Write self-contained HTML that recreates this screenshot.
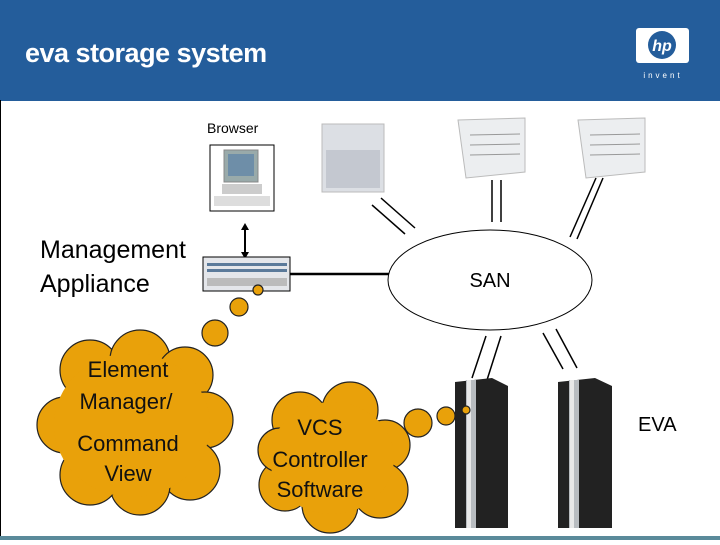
<!DOCTYPE html>
<html><head><style>
body{margin:0;width:720px;height:540px;overflow:hidden;background:#fff;font-family:"Liberation Sans",sans-serif}
</style></head><body>
<svg width="720" height="540" xmlns="http://www.w3.org/2000/svg" font-family="Liberation Sans, sans-serif">
<rect x="0" y="0" width="720" height="101" fill="#245d9b"/>
<text x="25" y="62" fill="#fff" font-size="27" font-weight="bold" letter-spacing="-0.5">eva storage system</text>
<rect x="636" y="28" width="53" height="35" rx="3" fill="#fff"/>
<circle cx="662" cy="45" r="14" fill="#245d9b"/>
<text x="662" y="51" fill="#fff" font-size="16" font-weight="bold" font-style="italic" text-anchor="middle">hp</text>
<text x="663" y="78" fill="#fff" font-size="8" text-anchor="middle" letter-spacing="3">invent</text>
<line x1="0.5" y1="100" x2="0.5" y2="540" stroke="#000"/>
<rect x="0" y="536" width="720" height="4" fill="#5a8a9a"/>

<text x="207" y="133" font-size="14">Browser</text>
<rect x="210" y="145" width="64" height="66" fill="#fff" stroke="#000"/>
<rect x="224" y="150" width="34" height="32" fill="#9aa" stroke="#888"/>
<rect x="228" y="154" width="26" height="22" fill="#6e8ea8"/>
<rect x="222" y="184" width="40" height="10" fill="#ccc"/>
<rect x="214" y="196" width="56" height="10" fill="#ddd"/>
<line x1="245" y1="226" x2="245" y2="256" stroke="#000" stroke-width="2"/>
<path d="M241,230 L245,223 L249,230 Z M241,252 L245,259 L249,252 Z" fill="#000"/>
<text x="40" y="258" font-size="25">Management</text>
<text x="40" y="292" font-size="25">Appliance</text>
<rect x="203" y="257" width="87" height="34" fill="#e4e6ea" stroke="#000"/>
<rect x="207" y="263" width="80" height="3" fill="#5b7a9a"/>
<rect x="207" y="269" width="80" height="3" fill="#5b7a9a"/>
<rect x="207" y="278" width="80" height="8" fill="#bbb"/>
<line x1="290" y1="274" x2="389" y2="274" stroke="#000" stroke-width="2.5"/>

<ellipse cx="490" cy="280" rx="102" ry="50" fill="#fff" stroke="#000"/>
<text x="490" y="287" font-size="20" text-anchor="middle">SAN</text>

<rect x="322" y="124" width="62" height="68" fill="#dcdfe4" stroke="#bbb"/>
<rect x="326" y="150" width="54" height="38" fill="#c4c8d0"/>
<path d="M458,120 L525,118 L525,172 L466,178 Z" fill="#eceef0" stroke="#bbb"/>
<path d="M578,120 L645,118 L645,172 L586,178 Z" fill="#eceef0" stroke="#bbb"/>
<g stroke="#999"><line x1="470" y1="135" x2="520" y2="134"/><line x1="470" y1="145" x2="520" y2="144"/><line x1="470" y1="155" x2="520" y2="154"/><line x1="590" y1="135" x2="640" y2="134"/><line x1="590" y1="145" x2="640" y2="144"/><line x1="590" y1="155" x2="640" y2="154"/></g>

<g stroke="#000" stroke-width="1.5">
<line x1="372" y1="205" x2="405" y2="234"/><line x1="381" y1="198" x2="415" y2="228"/>
<line x1="492" y1="180" x2="492" y2="222"/><line x1="501" y1="180" x2="501" y2="222"/>
<line x1="596" y1="178" x2="570" y2="237"/><line x1="603" y1="178" x2="577" y2="239"/>
<line x1="486" y1="336" x2="472" y2="378"/><line x1="501" y1="336" x2="487" y2="380"/>
<line x1="543" y1="333" x2="563" y2="369"/><line x1="556" y1="329" x2="577" y2="368"/>
</g>

<g>
<path d="M455,382 L492,378 L508,386 L508,528 L455,528 Z" fill="#222"/>
<rect x="466" y="380" width="10" height="148" fill="#b8bcc0"/>
<rect x="467" y="380" width="4" height="148" fill="#e8e8e8"/>
<path d="M558,382 L595,378 L612,386 L612,528 L558,528 Z" fill="#222"/>
<rect x="569" y="380" width="10" height="148" fill="#b8bcc0"/>
<rect x="570" y="380" width="4" height="148" fill="#e8e8e8"/>
</g>
<text x="638" y="431" font-size="20">EVA</text>

<g fill="#e9a10a" stroke="#222" stroke-width="1.2">
<circle cx="258" cy="290" r="5"/>
<circle cx="239" cy="307" r="9"/>
<circle cx="215" cy="333" r="13"/>
<circle cx="466" cy="410" r="4"/>
<circle cx="446" cy="416" r="9"/>
<circle cx="418" cy="423" r="14"/>
</g>
<g fill="#e9a10a" stroke="#222" stroke-width="1.2">
<circle cx="90" cy="370" r="30"/><circle cx="140" cy="360" r="30"/><circle cx="185" cy="375" r="28"/>
<circle cx="205" cy="420" r="28"/><circle cx="190" cy="470" r="30"/><circle cx="140" cy="485" r="30"/>
<circle cx="90" cy="475" r="30"/><circle cx="65" cy="425" r="28"/>
<circle cx="300" cy="420" r="28"/><circle cx="350" cy="410" r="28"/><circle cx="385" cy="445" r="25"/>
<circle cx="380" cy="490" r="28"/><circle cx="330" cy="505" r="28"/><circle cx="285" cy="485" r="26"/><circle cx="280" cy="450" r="22"/>
</g>
<g fill="#e9a10a"><ellipse cx="132" cy="425" rx="78" ry="72"/><ellipse cx="332" cy="458" rx="62" ry="56"/></g>
<g font-size="22" text-anchor="middle" fill="#111">
<text x="128" y="377">Element</text>
<text x="126" y="409">Manager/</text>
<text x="128" y="451">Command</text>
<text x="128" y="481">View</text>
<text x="320" y="435">VCS</text>
<text x="320" y="467">Controller</text>
<text x="320" y="497">Software</text>
</g>
</svg>
</body></html>
